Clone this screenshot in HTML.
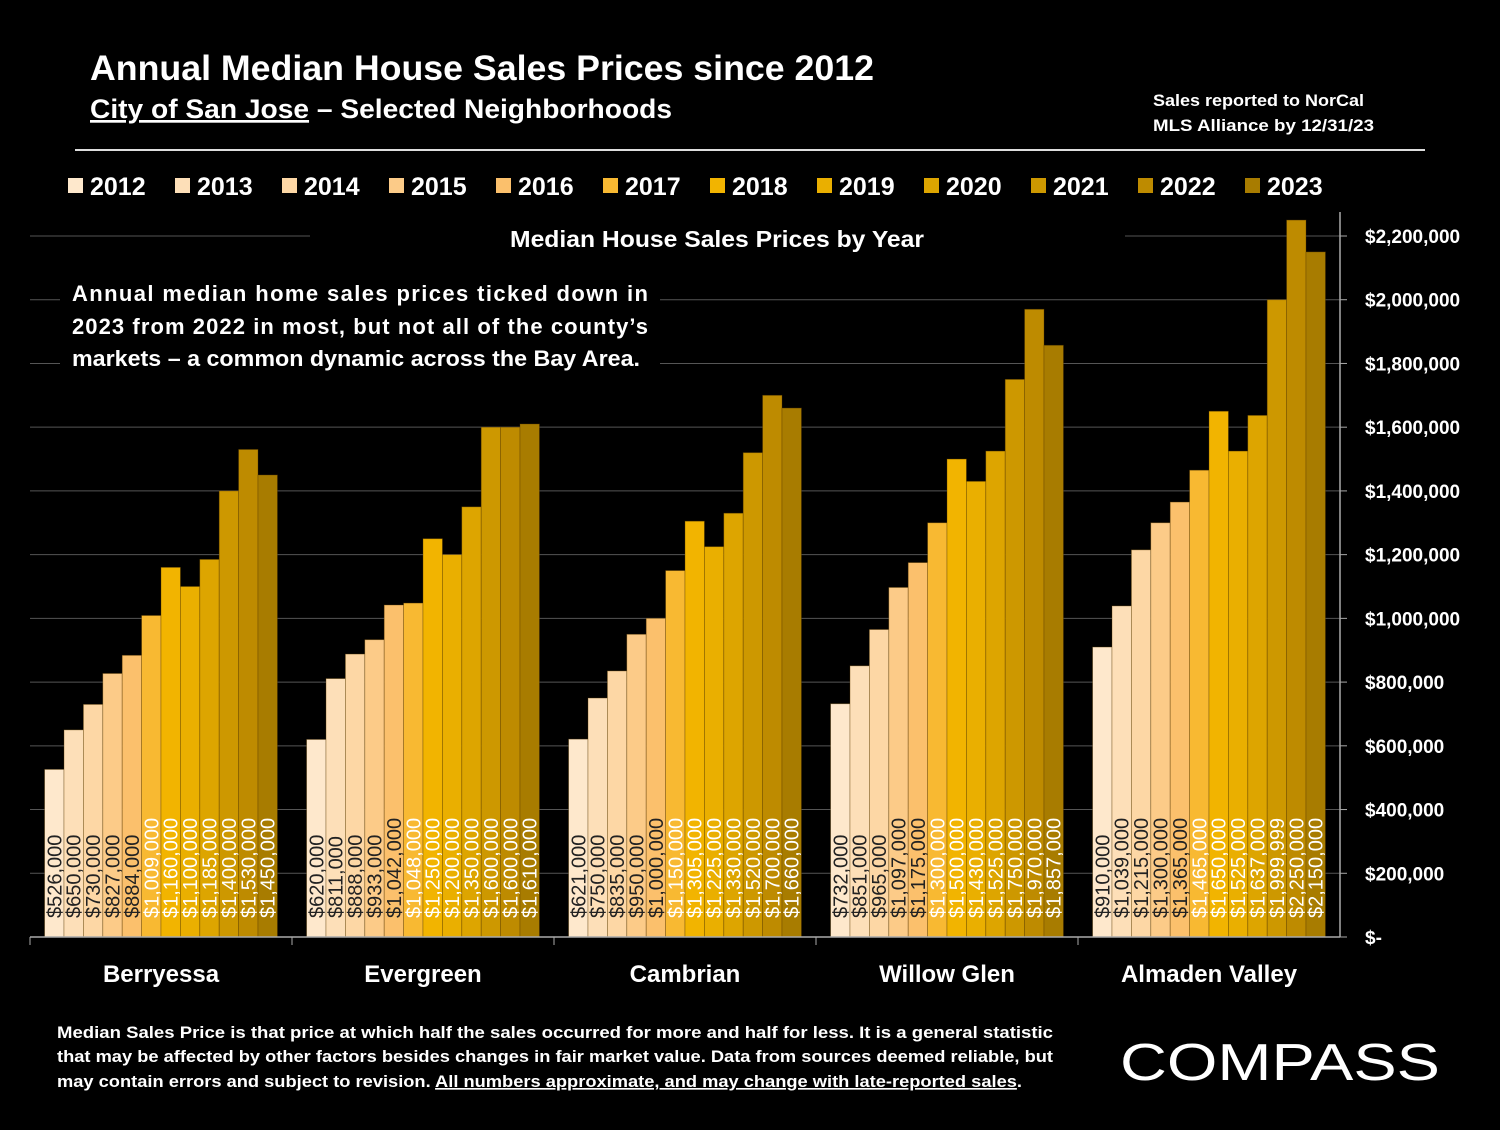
<!DOCTYPE html>
<html><head><meta charset="utf-8"><style>
body{margin:0;background:#000;width:1500px;height:1125px;overflow:hidden;font-family:"Liberation Sans",sans-serif;color:#fff}
svg text{font-family:"Liberation Sans",sans-serif}
</style></head><body>
<svg id="chart" width="1500" height="1125" viewBox="0 0 1500 1125">
<text x="90" y="80" font-size="35" font-weight="bold" fill="#fff" textLength="784" lengthAdjust="spacingAndGlyphs">Annual Median House Sales Prices since 2012</text>
<text x="90" y="118" font-size="27" font-weight="bold" fill="#fff" textLength="582" lengthAdjust="spacingAndGlyphs"><tspan text-decoration="underline">City of San Jose</tspan> – Selected Neighborhoods</text>
<text x="1153" y="106" font-size="17" font-weight="bold" fill="#fff" textLength="211" lengthAdjust="spacingAndGlyphs">Sales reported to NorCal</text>
<text x="1153" y="131" font-size="17" font-weight="bold" fill="#fff" textLength="221" lengthAdjust="spacingAndGlyphs">MLS Alliance by 12/31/23</text>
<line x1="75" y1="150" x2="1425" y2="150" stroke="#ddd" stroke-width="2"/>
<g id="legend"></g>
<g id="grid"></g>
<rect x="310" y="215" width="815" height="45" fill="#000"/>
<rect x="60" y="275" width="600" height="100" fill="#000"/>
<text x="717" y="247" font-size="23" font-weight="bold" fill="#fff" text-anchor="middle" textLength="414" lengthAdjust="spacingAndGlyphs">Median House Sales Prices by Year</text>
<g font-size="22" font-weight="bold" fill="#fff">
<text x="72" y="301" textLength="576" lengthAdjust="spacing">Annual median home sales prices ticked down in</text>
<text x="72" y="334" textLength="576" lengthAdjust="spacing">2023 from 2022 in most, but not all of the county’s</text>
<text x="72" y="366" textLength="568" lengthAdjust="spacingAndGlyphs">markets – a common dynamic across the Bay Area.</text>
</g>
<g id="bars"></g>
<g id="axes"></g>
<g font-size="16.5" font-weight="bold" fill="#fff">
<text x="57" y="1038" textLength="996" lengthAdjust="spacingAndGlyphs">Median Sales Price is that price at which half the sales occurred for more and half for less. It is a general statistic</text>
<text x="57" y="1062" textLength="996" lengthAdjust="spacingAndGlyphs">that may be affected by other factors besides changes in fair market value. Data from sources deemed reliable, but</text>
<text x="57" y="1087" textLength="965" lengthAdjust="spacingAndGlyphs">may contain errors and subject to revision.  <tspan text-decoration="underline">All numbers approximate, and may change with late-reported sales</tspan>.</text>
</g>
<text x="1120" y="1080" font-size="52" fill="#fff" textLength="320" lengthAdjust="spacingAndGlyphs">COMPASS</text>
</svg>
<script>
const categories=["Berryessa","Evergreen","Cambrian","Willow Glen","Almaden Valley"];
const years=["2012","2013","2014","2015","2016","2017","2018","2019","2020","2021","2022","2023"];
const berryessa=[526000,650000,730000,827000,884000,1009000,1160000,1100000,1185000,1400000,1530000,1450000];
const evergreen=[620000,811000,888000,933000,1042000,1048000,1250000,1200000,1350000,1600000,1600000,1610000];
const cambrian=[621000,750000,835000,950000,1000000,1150000,1305000,1225000,1330000,1520000,1700000,1660000];
const willowGlen=[732000,851000,965000,1097000,1175000,1300000,1500000,1430000,1525000,1750000,1970000,1857000];
const almaden=[910000,1039000,1215000,1300000,1365000,1465000,1650000,1525000,1637000,1999999,2250000,2150000];
const series=[berryessa,evergreen,cambrian,willowGlen,almaden];
const yTicks=[0,200000,400000,600000,800000,1000000,1200000,1400000,1600000,1800000,2000000,2200000];
const colors=["#FEE8CC","#FDDFB8","#FDD7A5","#FCCB88","#FBC06C","#F8B932","#F2B400","#EAAF00","#DDA500","#CD9800","#BE8B00","#A87C00"];
const NS="http://www.w3.org/2000/svg";
const X0=30,X1=1340,Y0=937,YMAX=2200000,YTOP=236;
const gw=(X1-X0)/categories.length, bw=19.4, pad=(gw-bw*12)/2;
function y(v){return Y0-(v/YMAX)*(Y0-YTOP);}
function mk(tag,attrs,parent){const e=document.createElementNS(NS,tag);for(const k in attrs)e.setAttribute(k,attrs[k]);parent.appendChild(e);return e;}
function fmt(v){return v===0?"$-":"$"+v.toLocaleString("en-US");}
const grid=document.getElementById("grid"),axes=document.getElementById("axes"),bars=document.getElementById("bars"),legend=document.getElementById("legend");
yTicks.forEach(t=>{
 if(t>0){const l=mk("line",{x1:X0,x2:X1,y1:y(t),y2:y(t),stroke:"#555","stroke-width":1},grid);
 
 }
 const tk=mk("line",{x1:X1,x2:X1+7,y1:y(t),y2:y(t),stroke:"#aaa"},axes);
 
 
 const tx=mk("text",{x:1365,y:y(t)+7,"font-size":19,"font-weight":"bold",fill:"#fff"},axes);
 tx.textContent=fmt(t);
 
 
});
const ya=mk("line",{x1:X1,x2:X1,y1:212,y2:Y0,stroke:"#aaa","stroke-width":1.5},axes);


const xa=mk("line",{x1:X0,x2:X1,y1:Y0,y2:Y0,stroke:"#aaa","stroke-width":1.5},axes);


categories.forEach((c,ci)=>{
 const gx=X0+ci*gw;
 const sep=mk("line",{x1:gx,x2:gx,y1:Y0,y2:Y0+8,stroke:"#aaa"},axes);
 
 
 const lab=mk("text",{x:gx+gw/2,y:982,"font-size":24,"font-weight":"bold",fill:"#fff","text-anchor":"middle"},axes);
 lab.textContent=c;
 
 
 series[ci].forEach((v,yi)=>{
  const bx=gx+pad+yi*bw;
  const r=mk("rect",{x:bx,y:y(v),width:bw,height:Y0-y(v),fill:colors[yi],stroke:"rgba(90,60,0,0.45)","stroke-width":0.8},bars);
  
  
  const t=mk("text",{transform:`translate(${bx+bw/2+7},918) rotate(-90)`,"font-size":20,fill:yi<5?"#222":"#fff"},bars);
  t.textContent=fmt(v);
  
  
 });
});
const lx=[68,175,282,389,496,603,710,817,924,1031,1138,1245];
years.forEach((yr,i)=>{
 const s=mk("rect",{x:lx[i],y:178,width:15,height:15,fill:colors[i]},legend);
 
 
 const t=mk("text",{x:lx[i]+22,y:195,"font-size":25,"font-weight":"bold",fill:"#fff"},legend);
 t.textContent=yr;
 
 
});
</script>
</body></html>
